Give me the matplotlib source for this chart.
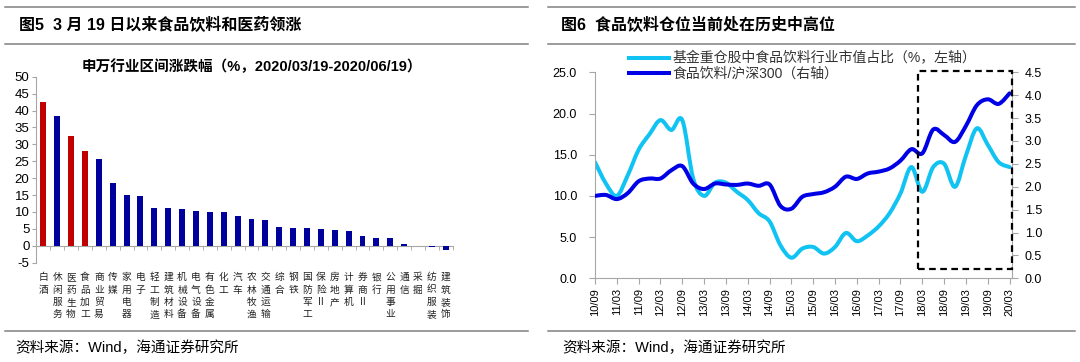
import numpy as np
import matplotlib
matplotlib.use('Agg')
import matplotlib.pyplot as plt
from matplotlib.path import Path
from matplotlib.patches import PathPatch, Rectangle
from matplotlib.lines import Line2D

plt.rcParams['font.family'] = ['Liberation Sans', 'Noto Sans CJK SC', 'DejaVu Sans']
plt.rcParams['axes.unicode_minus'] = False

# ---------------- data: left chart (Shenwan industries) ----------------
industries = ['白酒', '休闲服务', '医药生物', '食品加工', '商业贸易', '传媒', '家用电器', '电子',
              '轻工制造', '建筑材料', '机械设备', '电气设备', '有色金属', '化工', '汽车', '农林牧渔',
              '交通运输', '综合', '钢铁', '国防军工', '保险Ⅱ', '房地产', '计算机', '券商Ⅱ',
              '银行', '公用事业', '通信', '采掘', '纺织服装', '建筑装饰']
changes = [42.6, 38.4, 32.6, 28.1, 25.7, 18.5, 15.0, 14.7, 11.2, 11.2, 11.0, 10.2, 10.1, 9.9, 8.7,
           7.8, 7.6, 5.6, 5.4, 5.3, 4.9, 4.8, 4.4, 2.9, 2.2, 2.2, 0.5, -0.1, -0.4, -1.1]
highlight = ['白酒', '医药生物', '食品加工']
left_yticks = [-5, 0, 5, 10, 15, 20, 25, 30, 35, 40, 45, 50]

# ---------------- data: right chart (quarterly, 2010/09 - 2020/03) ----------------
fund_share = [14.1, 11.5, 10.0, 12.5, 15.6, 17.5, 19.2, 18.0, 19.2, 12.1, 10.0, 11.6, 11.6,
              10.5, 9.5, 7.9, 6.9, 4.0, 2.5, 3.6, 3.8, 3.0, 3.8, 5.5, 4.5, 5.2, 6.3, 7.9,
              10.3, 13.5, 10.5, 13.5, 13.9, 11.1, 14.9, 18.2, 16.2, 14.1, 13.5]
food_hs300 = [1.80, 1.82, 1.73, 1.86, 2.12, 2.18, 2.18, 2.36, 2.45, 2.07, 1.95, 2.07, 2.05,
              2.04, 2.07, 2.02, 2.05, 1.58, 1.52, 1.78, 1.84, 1.88, 2.00, 2.22, 2.17, 2.29,
              2.33, 2.40, 2.57, 2.82, 2.73, 3.25, 3.13, 2.98, 3.33, 3.78, 3.91, 3.81, 4.04]
xtick_labels = ['10/09', '11/03', '11/09', '12/03', '12/09', '13/03', '13/09', '14/03', '14/09',
                '15/03', '15/09', '16/03', '16/09', '17/03', '17/09', '18/03', '18/09', '19/03',
                '19/09', '20/03']
left_ticks_r = [0, 5, 10, 15, 20, 25]
right_ticks_r = [0, 0.5, 1.0, 1.5, 2.0, 2.5, 3.0, 3.5, 4.0, 4.5]
legend_labels = ['基金重仓股中食品饮料行业市值占比（%，左轴）', '食品饮料/沪深300（右轴）']
box_x = (29.6, 38.25)
box_y = (0.2, 4.53)

RED = '#C00000'
NAVY = '#00009C'
LIGHT = '#10C3F3'
DARK = '#0000E6'
AXC = '#A6A6A6'
RULE = '#808080'

W, H = 1080, 362
fig = plt.figure(figsize=(W / 100, H / 100), dpi=100)


def fx(px):
    return px / W


def fy(py):
    return 1 - py / H


def hline(x0, x1, y):
    fig.add_artist(Line2D([fx(x0), fx(x1)], [fy(y), fy(y)], color=RULE, lw=1.1))


# ---------------- frame rules and titles ----------------
for (x0, x1) in [(5, 528), (548, 1075)]:
    hline(x0, x1, 6.9)
    hline(x0, x1, 44)
    hline(x0, x1, 331)

fig.text(fx(19), fy(25.5), '图5  3 月 19 日以来食品饮料和医药领涨', fontsize=11.5,
         fontweight='bold', ha='left', va='center', color='black')
fig.text(fx(561), fy(25.5), '图6  食品饮料仓位当前处在历史中高位', fontsize=11.5,
         fontweight='bold', ha='left', va='center', color='black')
fig.text(fx(252), fy(67), '申万行业区间涨跌幅（%，2020/03/19-2020/06/19）', fontsize=10.5,
         fontweight=600, ha='center', va='center', color='black')
fig.text(fx(15), fy(348), '资料来源：Wind，海通证券研究所', fontsize=10.5,
         ha='left', va='center', color='black')
fig.text(fx(562), fy(348), '资料来源：Wind，海通证券研究所', fontsize=10.5,
         ha='left', va='center', color='black')

# ---------------- left chart ----------------
ax1 = fig.add_axes([fx(36.4), fy(262.7), (452.7 - 36.4) / W, (262.7 - 76.7) / H])
n = len(industries)
colors = [RED if c in highlight else NAVY for c in industries]
ax1.bar(np.arange(n), changes, width=0.43, color=colors, zorder=3)
ax1.set_xlim(-0.5, n - 0.5)
ax1.set_ylim(-5, 50)
ax1.set_yticks(left_yticks)
for s in ['top', 'right']:
    ax1.spines[s].set_visible(False)
ax1.spines['left'].set_color(AXC)
ax1.spines['bottom'].set_color(AXC)
ax1.spines['bottom'].set_position(('data', 0))
ax1.set_xticks(np.arange(n), labels=['\n'.join(c) for c in industries])
ax1.set_xticks(np.arange(-0.5, n, 1.0), minor=True)
ax1.tick_params(axis='x', which='major', length=0, pad=19, labelsize=7, labelcolor='#222222',
                labelfontfamily=['Noto Sans CJK SC', 'Liberation Sans'])
ax1.tick_params(axis='x', which='minor', length=3, color=AXC, direction='out')
ax1.tick_params(axis='y', length=3, color=AXC, direction='out', pad=2, labelsize=9.5)
for lbl in ax1.get_xticklabels():
    lbl.set_linespacing(1.3)

# ---------------- right chart ----------------
ax2 = fig.add_axes([fx(595), fy(278.3), (1012.3 - 595) / W, (278.3 - 72.3) / H])
ax3 = ax2.twinx()
x = np.arange(len(fund_share))


def smooth_path(xs, ys):
    pts = np.column_stack([np.asarray(xs, float), np.asarray(ys, float)])
    ext = np.vstack([pts[0], pts, pts[-1]])
    verts = [pts[0]]
    codes = [Path.MOVETO]
    for i in range(len(pts) - 1):
        p0, p1, p2, p3 = ext[i], ext[i + 1], ext[i + 2], ext[i + 3]
        verts += [p1 + (p2 - p0) / 6.0, p2 - (p3 - p1) / 6.0, p2]
        codes += [Path.CURVE4] * 3
    return Path(verts, codes)


ax2.add_patch(PathPatch(smooth_path(x, fund_share), fill=False, edgecolor=LIGHT, lw=2.9,
                        capstyle='round', joinstyle='round'))
ax3.add_patch(PathPatch(smooth_path(x, food_hs300), fill=False, edgecolor=DARK, lw=2.9,
                        capstyle='round', joinstyle='round'))
ax3.add_patch(Rectangle((box_x[0], box_y[0]), box_x[1] - box_x[0], box_y[1] - box_y[0],
                        fill=False, edgecolor='black', lw=1.6, linestyle=(0, (3, 2)),
                        clip_on=False, zorder=5))

ax2.set_xlim(0, 38.25)
ax2.set_ylim(0, 25)
ax3.set_ylim(0, 4.5)
ax2.set_yticks(left_ticks_r, labels=[f'{v:.1f}' for v in left_ticks_r])
ax3.set_yticks(right_ticks_r, labels=[f'{v:.1f}' for v in right_ticks_r])
ax2.set_xticks(np.arange(0, len(fund_share), 2), labels=xtick_labels)
ax2.tick_params(axis='x', length=4, color=AXC, direction='out', pad=3, labelsize=8,
                labelrotation=90)
ax2.tick_params(axis='y', length=4, color=AXC, direction='out', pad=9, labelsize=9)
ax3.tick_params(axis='y', length=4, color=AXC, direction='out', pad=5, labelsize=9)
for a in (ax2, ax3):
    a.spines['top'].set_visible(False)
    for s in ('left', 'right', 'bottom'):
        a.spines[s].set_color(AXC)
ax2.spines['right'].set_visible(False)
ax3.spines['left'].set_visible(False)
ax3.spines['bottom'].set_visible(False)

handles = [Line2D([], [], color=LIGHT, lw=2.9), Line2D([], [], color=DARK, lw=2.9)]
ax3.legend(handles, legend_labels, loc='upper left', bbox_to_anchor=(fx(628.6), fy(51.5)),
           bbox_transform=fig.transFigure, frameon=False, fontsize=10, handlelength=2.88,
           handletextpad=0.25, labelspacing=0.1, borderpad=0, borderaxespad=0,
           labelcolor='#333333')

fig.savefig('out.png', dpi=100)
